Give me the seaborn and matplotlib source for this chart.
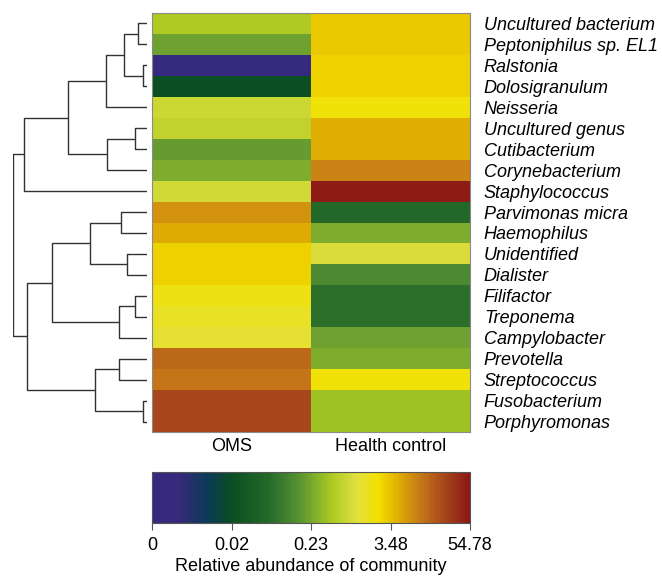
import numpy as np
import pandas as pd
import matplotlib
matplotlib.use("Agg")
import matplotlib.pyplot as plt
from matplotlib.colors import LinearSegmentedColormap
import seaborn as sns

# ---------------- data ----------------
taxa = ["Uncultured bacterium", "Peptoniphilus sp. EL1", "Ralstonia", "Dolosigranulum",
        "Neisseria", "Uncultured genus", "Cutibacterium", "Corynebacterium",
        "Staphylococcus", "Parvimonas micra", "Haemophilus", "Unidentified",
        "Dialister", "Filifactor", "Treponema", "Campylobacter", "Prevotella",
        "Streptococcus", "Fusobacterium", "Porphyromonas"]
groups = ["OMS", "Health control"]
oms = [0.49, 0.21, 0.0, 0.021, 0.76, 0.65, 0.19, 0.26, 0.85, 6.75,
       4.85, 2.80, 2.80, 1.82, 1.54, 1.31, 13.1, 10.5, 22.7, 22.7]
health = [3.12, 3.12, 2.80, 2.80, 2.02, 4.59, 4.59, 8.41, 49.1, 0.060,
          0.26, 0.95, 0.13, 0.073, 0.073, 0.21, 0.26, 2.02, 0.40, 0.40]
cbar_ticks = [0, 0.02, 0.23, 3.48, 54.78]
cbar_tick_labels = ["0", "0.02", "0.23", "3.48", "54.78"]
# row dendrogram: (left child, right child, height); leaves 0-19, clusters from 20
merges = [(0, 1, 9), (2, 3, 4), (20, 21, 23), (22, 4, 41), (5, 6, 12),
          (24, 7, 40), (23, 25, 79), (26, 8, 123), (9, 10, 26), (11, 12, 20),
          (28, 29, 57), (13, 14, 12), (31, 15, 28), (30, 32, 95), (16, 17, 28),
          (18, 19, 4), (34, 35, 52), (33, 36, 120), (27, 37, 134)]

# ---------------- scale ----------------
off = 0.002
def to_scale(v):
    return np.interp(np.log10(np.asarray(v, float) + off),
                     np.log10(np.asarray(cbar_ticks) + off),
                     np.arange(len(cbar_ticks)))

df = pd.DataFrame({"OMS": to_scale(oms), "Health control": to_scale(health)},
                  index=taxa)[groups]

stops = [(0.0, "#352a80"), (0.08, "#38297c"), (0.12, "#25306c"), (0.17, "#0c3a5a"),
         (0.255, "#0b4f22"), (0.37, "#266a2a"), (0.465, "#5a9432"), (0.51, "#7eac2c"),
         (0.56, "#a8c820"), (0.645, "#e2e040"), (0.71, "#f2e200"), (0.77, "#e2b200"),
         (0.84, "#c87c18"), (0.915, "#a84a1a"), (1.0, "#8a1616")]
cmap = LinearSegmentedColormap.from_list("abund", stops)

sns.set_style("white")
plt.rcParams["font.family"] = ["Liberation Sans", "DejaVu Sans"]
plt.rcParams["text.color"] = "black"
plt.rcParams["xtick.color"] = "black"
plt.rcParams["ytick.color"] = "black"
plt.rcParams["axes.labelcolor"] = "black"

W, H = 662, 577
fig = plt.figure(figsize=(W / 100, H / 100), dpi=100)

def rect(x0, y0, x1, y1):
    return [x0 / W, 1 - y1 / H, (x1 - x0) / W, (y1 - y0) / H]

ax = fig.add_axes(rect(152, 13, 470, 432))
cax = fig.add_axes(rect(152, 472, 470, 523))
dax = fig.add_axes(rect(13, 13, 147, 432))

sns.heatmap(df, ax=ax, cmap=cmap, vmin=0, vmax=4, cbar_ax=cax,
            cbar_kws={"orientation": "horizontal", "ticks": list(range(5))})

ax.yaxis.tick_right()
ax.set_yticks(np.arange(len(taxa)) + 0.5)
ax.set_yticklabels(taxa, rotation=0, fontstyle="italic", fontsize=13)
ax.set_xticklabels(groups, fontsize=13)
ax.tick_params(axis="both", length=0)
ax.tick_params(axis="y", pad=10)
ax.tick_params(axis="x", pad=4)
ax.set_xlabel("")
ax.set_ylabel("")
for s in ax.spines.values():
    s.set_visible(True)
    s.set_color("#8a8a8a")
    s.set_linewidth(0.8)

cax.set_xticklabels(cbar_tick_labels, fontsize=13)
cax.tick_params(axis="x", length=5, width=0.8, color="#555555", pad=5)
cax.set_xlabel("Relative abundance of community", fontsize=13, labelpad=3)
cb = ax.collections[0].colorbar
cb.outline.set_edgecolor("#555555")
cb.outline.set_linewidth(0.8)

# dendrogram
pos = {i: (0.0, i + 0.5) for i in range(len(taxa))}
for k, (a, b, h) in enumerate(merges):
    xa, ya = pos[a]
    xb, yb = pos[b]
    dax.plot([xa, h, h, xb], [ya, ya, yb, yb], color="#333333", lw=1.0,
             solid_capstyle="butt")
    pos[len(taxa) + k] = (h, (ya + yb) / 2)
dax.set_xlim(134, 0)
dax.set_ylim(len(taxa), 0)
dax.axis("off")

fig.savefig("out.png", dpi=100)
